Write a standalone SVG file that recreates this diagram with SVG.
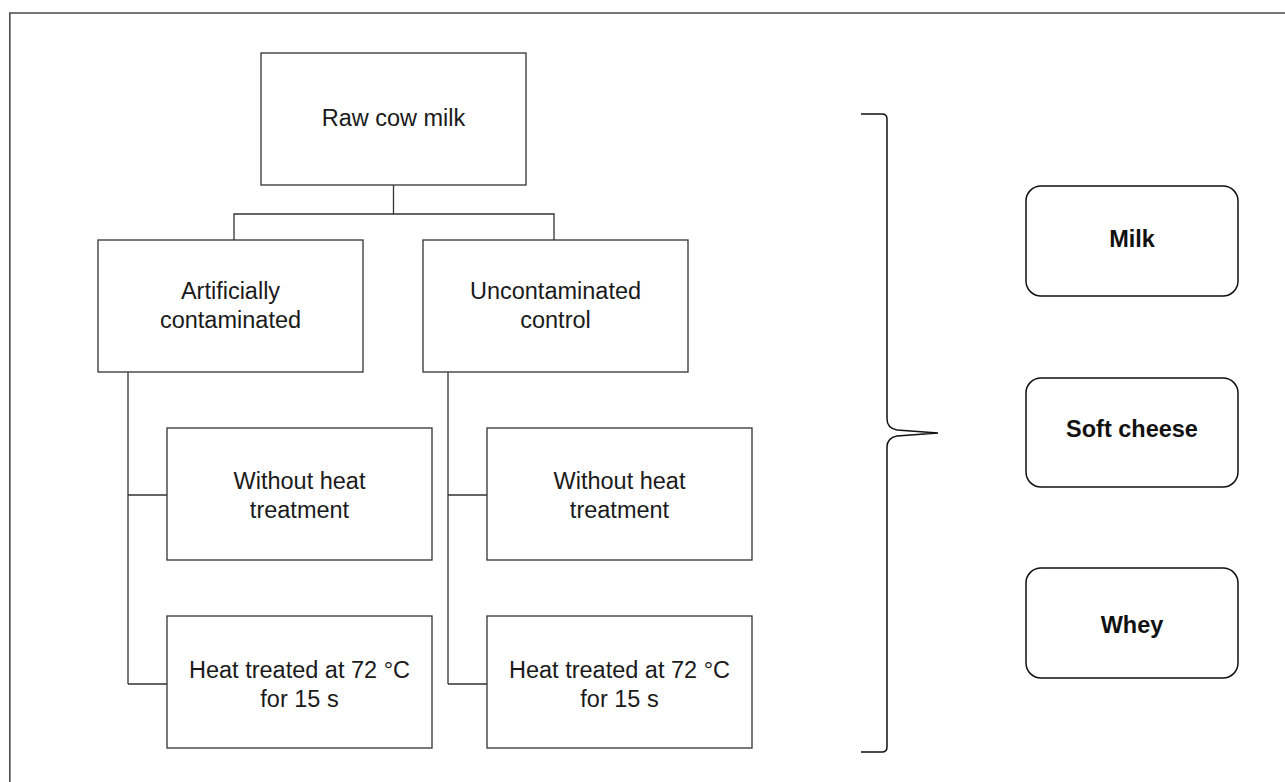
<svg xmlns="http://www.w3.org/2000/svg" width="1285" height="782" viewBox="0 0 1285 782">
<style>
.frame{fill:none;stroke:#4a4a4a;stroke-width:1.6}
.box{fill:#fff;stroke:#333;stroke-width:1.3}
.rbox{fill:#fff;stroke:#111;stroke-width:1.5}
.conn{fill:none;stroke:#333;stroke-width:1.3}
.brace{fill:none;stroke:#111;stroke-width:1.5}
.t{font-family:"Liberation Sans",Arial,sans-serif;font-size:23.5px;fill:#1a1a1a;text-anchor:middle}
.b{font-family:"Liberation Sans",Arial,sans-serif;font-size:23.5px;font-weight:bold;fill:#111;text-anchor:middle}
</style>
<rect width="1285" height="782" fill="#fff"/>
<path class="frame" d="M9.8,782 V13 H1285"/>
<g id="connectors">
<path class="conn" d="M393.5,185 V214 M234,240 V214 H554 V240"/>
<path class="conn" d="M128,372 V684 M128,495 H167 M128,684 H167"/>
<path class="conn" d="M448,372 V684 M448,495 H487 M448,684 H487"/>
<path class="brace" d="M861,114 H882 Q887,114 887,119 V419 Q887,428 897,430 L938,433 L897,436 Q887,438 887,447 V747 Q887,752 882,752 H861"/>
</g>
<g id="raw"><rect class="box" x="261" y="53" width="265" height="132"/><text class="t" x="393.5" y="126">Raw cow milk</text></g>
<g id="artificial"><rect class="box" x="98" y="240" width="265" height="132"/><text class="t" x="230.5" y="299">Artificially</text><text class="t" x="230.5" y="328">contaminated</text></g>
<g id="uncontaminated"><rect class="box" x="423" y="240" width="265" height="132"/><text class="t" x="555.5" y="299">Uncontaminated</text><text class="t" x="555.5" y="328">control</text></g>
<g id="a-without"><rect class="box" x="167" y="428" width="265" height="132"/><text class="t" x="299.5" y="489">Without heat</text><text class="t" x="299.5" y="518">treatment</text></g>
<g id="a-heat"><rect class="box" x="167" y="616" width="265" height="132"/><text class="t" x="299.5" y="678">Heat treated at 72 °C</text><text class="t" x="299.5" y="707">for 15 s</text></g>
<g id="u-without"><rect class="box" x="487" y="428" width="265" height="132"/><text class="t" x="619.5" y="489">Without heat</text><text class="t" x="619.5" y="518">treatment</text></g>
<g id="u-heat"><rect class="box" x="487" y="616" width="265" height="132"/><text class="t" x="619.5" y="678">Heat treated at 72 °C</text><text class="t" x="619.5" y="707">for 15 s</text></g>
<g id="milk"><rect class="rbox" x="1026" y="186" width="212" height="110" rx="15"/><text class="b" x="1132" y="247">Milk</text></g>
<g id="cheese"><rect class="rbox" x="1026" y="378" width="212" height="109" rx="15"/><text class="b" x="1132" y="437">Soft cheese</text></g>
<g id="whey"><rect class="rbox" x="1026" y="568" width="212" height="110" rx="15"/><text class="b" x="1132" y="633">Whey</text></g>
</svg>
